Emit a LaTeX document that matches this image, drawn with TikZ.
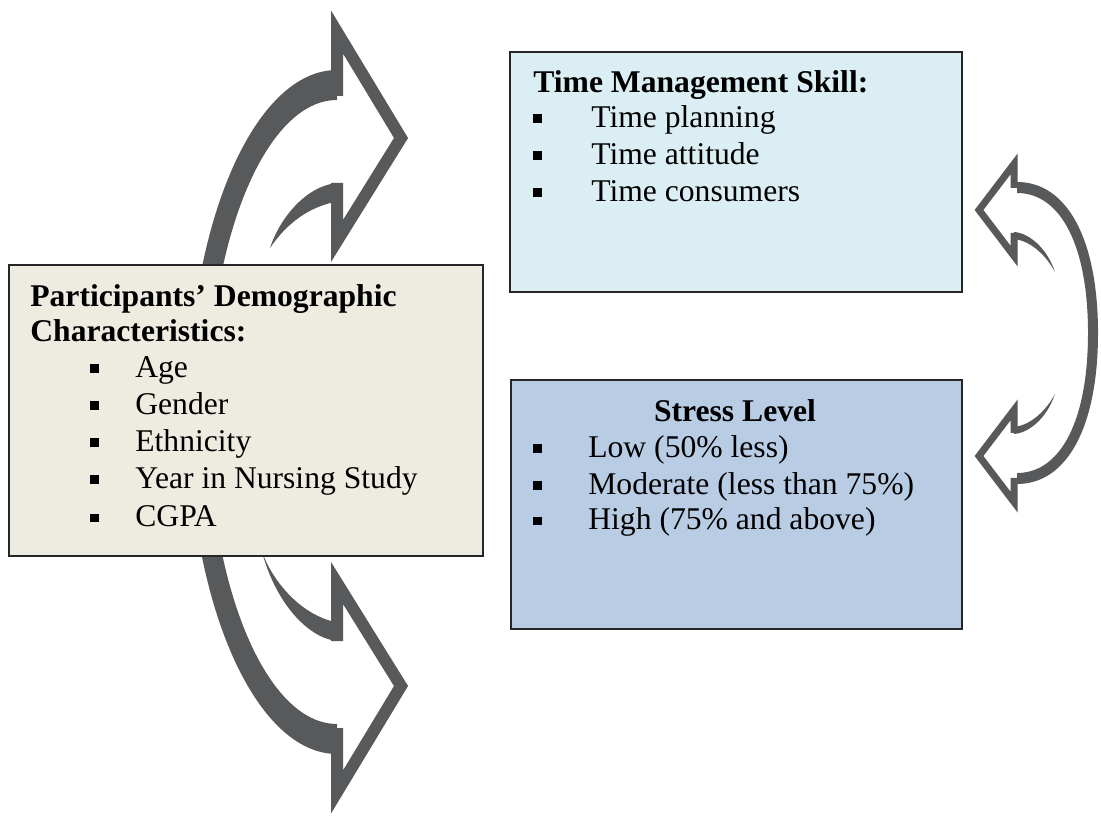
\documentclass[tikz,border=0pt]{standalone}
\usepackage{fontspec}
\setmainfont{Liberation Serif}
\definecolor{demofarbe}{HTML}{EEECE1}
\definecolor{zeitfarbe}{HTML}{DAEEF3}
\definecolor{stressfarbe}{HTML}{B8CCE4}
\definecolor{pfeilgrau}{HTML}{58595B}
\newcommand{\bul}{\rule[0.1cm]{0.17cm}{0.17cm}}
\begin{document}
\begin{tikzpicture}[x=0.02cm,y=0.02cm,
  kasten/.style={draw=black!85,line width=1pt,anchor=south west,inner sep=0pt},
  zeile/.style={anchor=base west,inner sep=0pt,font=\fontsize{18}{21}\selectfont},
  titel/.style={zeile,font=\fontsize{18}{21}\selectfont\bfseries},
  pfeil/.style={pfeilgrau,line join=miter}]
\useasboundingbox (0,0) rectangle (1101,818);
%
% --- Pfeile links (oben und gespiegelt unten) ---
\begin{scope}[shift={(337,406)}]
  % Aussenbogen
  \fill[pfeil] (0,342) .. controls (-82.3,342) and (-149,188.9) .. (-149,0)
    -- (-129,0) .. controls (-129,172.3) and (-71.2,312) .. (0,312) -- cycle;
  % Spitze
  \draw[pfeil,line width=0.24cm] (0,316) -- (0,380) -- (64,274) -- (0,171) -- (0,229);
  % Innenbogen
  \fill[pfeil] (3,229) .. controls (-25,229) and (-55,200) .. (-67,164)
    .. controls (-56,180) and (-35,205) .. (3,211) -- cycle;
\end{scope}
\begin{scope}[shift={(337,406)},yscale=-1]
  \fill[pfeil] (0,342) .. controls (-82.3,342) and (-149,188.9) .. (-149,0)
    -- (-129,0) .. controls (-129,172.3) and (-71.2,312) .. (0,312) -- cycle;
  \draw[pfeil,line width=0.24cm] (0,316) -- (0,380) -- (64,274) -- (0,171) -- (0,229);
  \fill[pfeil] (3,229) .. controls (-25,229) and (-60,195) .. (-75,140)
    .. controls (-64,170) and (-35,205) .. (3,211) -- cycle;
\end{scope}
%
% --- Pfeil rechts (Spitzen nach links) ---
\begin{scope}[shift={(1017,485)},xscale=-1]
  \fill[pfeil] (0,151) .. controls (-50.2,151) and (-81,93.6) .. (-81,0)
    -- (-71,0) .. controls (-71,86.8) and (-44,140) .. (0,140) -- cycle;
  \draw[pfeil,line width=0.14cm] (3,145) -- (3,169) -- (38,123) -- (3,77) -- (3,100);
  \fill[pfeil] (3,101) .. controls (-12,100) and (-30,85) .. (-38,61)
    .. controls (-30,76) and (-15,92) .. (3,94) -- cycle;
\end{scope}
\begin{scope}[shift={(1017,485)},xscale=-1,yscale=-1]
  \fill[pfeil] (0,151) .. controls (-50.2,151) and (-81,93.6) .. (-81,0)
    -- (-71,0) .. controls (-71,86.8) and (-44,140) .. (0,140) -- cycle;
  \draw[pfeil,line width=0.14cm] (3,145) -- (3,169) -- (38,123) -- (3,77) -- (3,100);
  \fill[pfeil] (3,101) .. controls (-12,100) and (-30,85) .. (-38,61)
    .. controls (-30,76) and (-15,92) .. (3,94) -- cycle;
\end{scope}
%
% --- Kasten: Demographie ---
\node[kasten,fill=demofarbe,minimum width=9.48cm,minimum height=5.82cm] (demo) at (8,261) {};
\node[titel] (demotitel) at (30,511) {Participants’ Demographic};
\node[titel] (demotitelb) at (30,476) {Characteristics:};
\node[zeile] (age) at (90,440) {\makebox[0.9cm][l]{\bul}Age};
\node[zeile] (gender) at (90,403) {\makebox[0.9cm][l]{\bul}Gender};
\node[zeile] (ethnic) at (90,366) {\makebox[0.9cm][l]{\bul}Ethnicity};
\node[zeile] (year) at (90,329) {\makebox[0.9cm][l]{\bul}Year in Nursing Study};
\node[zeile] (cgpa) at (90,291) {\makebox[0.9cm][l]{\bul}CGPA};
%
% --- Kasten: Zeitmanagement ---
\node[kasten,fill=zeitfarbe,minimum width=9.04cm,minimum height=4.8cm] (zeit) at (509,525) {};
\node[titel] (zeittitel) at (533,725) {Time Management Skill:};
\node[zeile] (planning) at (533,690) {\makebox[1.16cm][l]{\bul}Time planning};
\node[zeile] (attitude) at (533,653) {\makebox[1.16cm][l]{\bul}Time attitude};
\node[zeile] (consumer) at (533,616) {\makebox[1.16cm][l]{\bul}Time consumers};
%
% --- Kasten: Stress ---
\node[kasten,fill=stressfarbe,minimum width=9.02cm,minimum height=4.98cm] (stress) at (510,188) {};
\node[titel,anchor=base] (stresstitel) at (735,396) {Stress Level};
\node[zeile] (low) at (533,360) {\makebox[1.1cm][l]{\bul}Low (50\% less)};
\node[zeile] (moderate) at (533,323) {\makebox[1.1cm][l]{\bul}Moderate (less than 75\%)};
\node[zeile] (high) at (533,288) {\makebox[1.1cm][l]{\bul}High (75\% and above)};
\end{tikzpicture}
\end{document}
